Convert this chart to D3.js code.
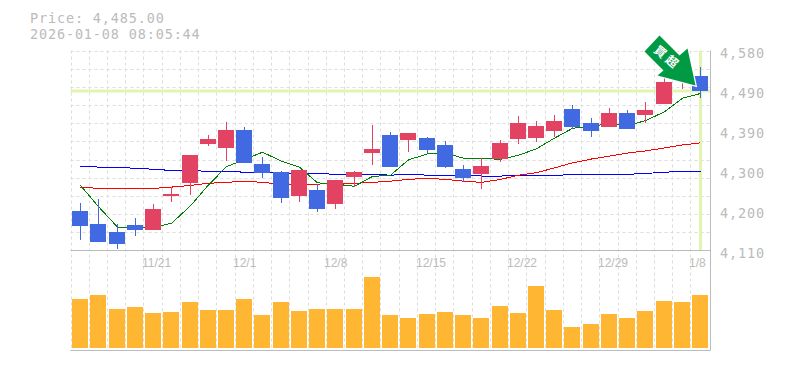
<!DOCTYPE html>
<html>
<head>
<meta charset="utf-8">
<script src="https://cdn.jsdelivr.net/npm/d3@7"></script>
<style>
    html, body { margin: 0; padding: 0; background: #fff; }
    svg { display: block; }
</style>
</head>
<body>
<div id="chart"></div>
<script>
const dates = ["11/21", "12/1", "12/8", "12/15", "12/22", "12/29", "1/8"];
const dateIndex = [4, 9, 14, 19, 24, 29, 34];
const priceTicks = [4580, 4486, 4392, 4298, 4204, 4110];
const priceLabels = ["4,580", "4,490", "4,390", "4,300", "4,200", "4,110"];
const lastPrice = 4485;

const opens = [4203, 4172, 4153, 4170, 4158, 4238, 4269, 4360, 4351, 4393, 4313, 4294, 4238, 4252, 4219, 4283, 4339, 4381, 4370, 4374, 4358, 4302, 4290, 4325, 4372, 4374, 4391, 4443, 4410, 4400, 4433, 4428, 4454, 4509, 4520];
const highs = [4222, 4231, 4172, 4186, 4219, 4259, 4334, 4381, 4412, 4400, 4330, 4297, 4299, 4266, 4276, 4297, 4405, 4388, 4386, 4377, 4367, 4311, 4327, 4370, 4426, 4414, 4428, 4452, 4421, 4445, 4440, 4459, 4525, 4534, 4541];
const lows = [4135, 4130, 4114, 4144, 4158, 4224, 4240, 4356, 4320, 4316, 4280, 4222, 4224, 4200, 4208, 4259, 4311, 4306, 4342, 4339, 4304, 4271, 4255, 4318, 4360, 4365, 4377, 4396, 4377, 4400, 4396, 4410, 4454, 4490, 4468];
const closes = [4168, 4130, 4125, 4158, 4208, 4243, 4334, 4372, 4393, 4316, 4292, 4233, 4299, 4208, 4276, 4294, 4349, 4306, 4386, 4346, 4306, 4280, 4309, 4363, 4410, 4403, 4414, 4400, 4391, 4433, 4396, 4440, 4506, 4525, 4485];
const ma5 = [4263, 4213, 4165, 4164, 4164, 4174, 4215, 4264, 4307, 4324, 4341, 4320, 4306, 4269, 4266, 4261, 4284, 4287, 4323, 4337, 4339, 4327, 4327, 4324, 4334, 4349, 4374, 4397, 4403, 4407, 4404, 4415, 4436, 4468, 4479];
const ma25 = [4259, 4256, 4256, 4256, 4256, 4259, 4263, 4268, 4270, 4273, 4270, 4266, 4266, 4266, 4268, 4268, 4270, 4273, 4277, 4280, 4277, 4273, 4270, 4277, 4287, 4293, 4304, 4316, 4325, 4332, 4339, 4344, 4351, 4358, 4363];
const ma75 = [4308, 4306, 4306, 4303, 4301, 4298, 4298, 4296, 4296, 4294, 4294, 4291, 4291, 4291, 4289, 4289, 4289, 4287, 4289, 4287, 4287, 4287, 4285, 4285, 4286, 4286, 4286, 4289, 4289, 4289, 4289, 4291, 4294, 4296, 4296];
const volume = [49, 53, 39, 41, 35, 36, 46, 38, 38, 49, 33, 46, 37, 39, 39, 39, 71, 33, 30, 34, 36, 33, 30, 42, 35, 62, 38, 21, 24, 34, 30, 37, 47, 46, 53];

const width = 785, height = 370;
const plotLeft = 70.5, plotRight = 710.5, plotTop = 50.5, plotMid = 250.5, plotBottom = 350.5;
const gray = "#bbbbbb", gridColor = "#dddddd", nowColor = "#e2f5b0";
const upColor = "#e24362", downColor = "#4169e1", volColor = "#ffb733";
const monoFont = "'DejaVu Sans Mono', monospace";
const labelFont = "'Liberation Sans', sans-serif";

let svg = d3.select("#chart").append("svg")
    .attr("width", width)
    .attr("height", height);

let x = d3.scaleBand()
    .domain(d3.range(closes.length))
    .range([71, 709.2]);
let cx = i => Math.round(x(i) + x.bandwidth() / 2) + 0.5;
let y = d3.scaleLinear().domain([4110, 4580]).range([plotMid, plotTop]);
let yVol = d3.scaleLinear().domain([0, 100]).range([348, 248]);

// grid
let grid = svg.append("g")
    .attr("stroke", gridColor)
    .attr("stroke-dasharray", "3,3");
grid.selectAll(".v")
    .data(d3.range(closes.length))
    .join("line")
    .attr("class", "v")
    .attr("x1", i => Math.floor(x(i)) + 0.5)
    .attr("x2", i => Math.floor(x(i)) + 0.5)
    .attr("y1", plotTop)
    .attr("y2", plotBottom);
grid.selectAll(".h")
    .data(d3.range(11))
    .join("line")
    .attr("class", "h")
    .attr("x1", plotLeft)
    .attr("x2", plotRight)
    .attr("y1", i => Math.round(plotTop + i * (plotMid - plotTop) / 11) + 0.5)
    .attr("y2", i => Math.round(plotTop + i * (plotMid - plotTop) / 11) + 0.5);

// current price cross
svg.append("line")
    .attr("x1", plotLeft).attr("x2", plotRight)
    .attr("y1", y(lastPrice)).attr("y2", y(lastPrice))
    .attr("stroke", nowColor).attr("stroke-width", 3);
svg.append("line")
    .attr("x1", cx(34)).attr("x2", cx(34))
    .attr("y1", plotTop).attr("y2", plotMid)
    .attr("stroke", nowColor).attr("stroke-width", 3);

// frame
svg.append("path")
    .attr("d", `M${plotLeft},${plotMid}H${plotRight}M${plotLeft},${plotBottom}H${plotRight}M${plotRight},${plotTop}V${plotBottom}`)
    .attr("fill", "none")
    .attr("stroke", gray);

// moving averages
let line = d3.line()
    .x((d, i) => cx(i))
    .y(d => y(d));
[[ma75, "#0000ff"], [ma25, "#ff0000"], [ma5, "#008000"]].forEach(([s, c]) => {
    svg.append("path")
        .attr("d", line(s))
        .attr("fill", "none")
        .attr("stroke", c)
        .attr("shape-rendering", "crispEdges");
});

// candles
let candle = svg.append("g").selectAll("g")
    .data(d3.range(closes.length))
    .join("g")
    .attr("shape-rendering", "crispEdges")
    .attr("fill", i => closes[i] >= opens[i] ? upColor : downColor);
candle.append("rect")
    .attr("x", i => cx(i) - 0.5)
    .attr("width", 1)
    .attr("y", i => y(highs[i]))
    .attr("height", i => y(lows[i]) - y(highs[i]));
candle.append("rect")
    .attr("x", i => cx(i) - 8.5)
    .attr("width", 16)
    .attr("y", i => y(Math.max(opens[i], closes[i])))
    .attr("height", i => Math.abs(y(opens[i]) - y(closes[i])));

// volume
svg.append("g").selectAll("rect")
    .data(volume)
    .join("rect")
    .attr("x", (d, i) => cx(i) - 8.5)
    .attr("width", 16)
    .attr("y", d => yVol(d))
    .attr("height", d => yVol(0) - yVol(d))
    .attr("fill", volColor)
    .attr("shape-rendering", "crispEdges");

// signal arrow, tip next to the last candle
let arrow = svg.append("g")
    .attr("transform", `translate(${cx(34) - 5},${y(lastPrice) - 5.5})`);
arrow.append("path")
    .attr("d", "M-36,-50L-16,-30L-8,-37L0,0L-38,-10L-32,-15L-51,-34Z")
    .attr("fill", "#009944")
    .attr("stroke", "#fff")
    .attr("stroke-width", 2.5)
    .attr("paint-order", "stroke");
arrow.append("text")
    .attr("transform", "translate(-29,-27) rotate(40)")
    .attr("text-anchor", "middle")
    .attr("dominant-baseline", "middle")
    .attr("font-family", "'Noto Sans CJK JP', sans-serif")
    .attr("font-size", 12)
    .attr("font-weight", 700)
    .attr("letter-spacing", 3)
    .attr("fill", "#fff")
    .text("買超");

// text
svg.append("g").selectAll("text")
    .data(priceLabels)
    .join("text")
    .attr("x", 720)
    .attr("y", (d, i) => y(priceTicks[i]) + 7.5)
    .attr("font-family", monoFont)
    .attr("font-size", 13.5)
    .attr("letter-spacing", 0.85)
    .attr("fill", gray)
    .text(d => d);
svg.append("g").selectAll("text")
    .data(dates)
    .join("text")
    .attr("x", (d, i) => cx(dateIndex[i]) - 11.5)
    .attr("y", 267)
    .attr("font-family", labelFont)
    .attr("font-size", 12)
    .attr("fill", gray)
    .text(d => d);
svg.append("text")
    .attr("x", 30).attr("y", 22.5)
    .attr("font-family", monoFont).attr("font-size", 13.5)
    .attr("letter-spacing", 0.85).attr("fill", gray)
    .text("Price: 4,485.00");
svg.append("text")
    .attr("x", 30).attr("y", 38.5)
    .attr("font-family", monoFont).attr("font-size", 13.5)
    .attr("letter-spacing", 0.85).attr("fill", gray)
    .text("2026-01-08 08:05:44");
</script>
</body>
</html>
